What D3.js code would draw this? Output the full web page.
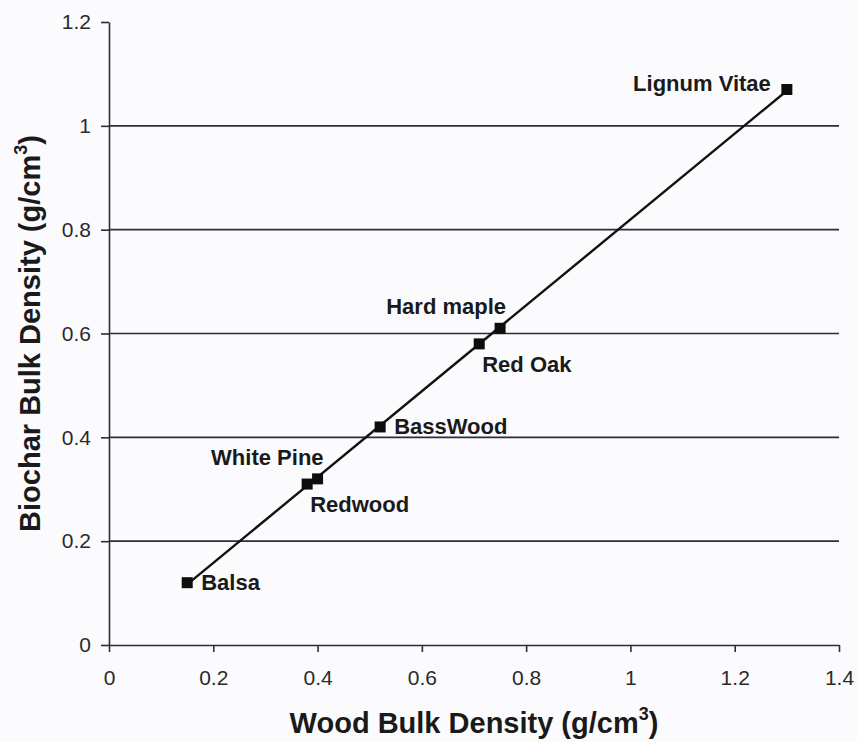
<!DOCTYPE html>
<html>
<head>
<meta charset="utf-8">
<script src="https://cdn.jsdelivr.net/npm/d3@7"></script>
<style>
    body { margin: 0; background: #fbfbfd; }
    svg { display: block; }
    .tick text { font-family: Arial, "Liberation Sans", sans-serif; font-size: 21px; fill: #2a2a2a; }
    .tick line, .domain { stroke: #2c2c3a; stroke-width: 1.6; }
    .point-label { font-family: Arial, "Liberation Sans", sans-serif; font-size: 22px; font-weight: bold; fill: #1a1a1a; }
    .axis-title { font-family: Arial, "Liberation Sans", sans-serif; font-size: 29px; font-weight: bold; fill: #1a1a1a; }
</style>
</head>
<body>
<div id="chart"></div>
<script>
// Wood species and their densities (g/cm3)
const woods = ['Balsa', 'Redwood', 'White Pine', 'BassWood', 'Red Oak', 'Hard maple', 'Lignum Vitae'];
const woodDensity = [0.15, 0.38, 0.40, 0.52, 0.71, 0.75, 1.30];
const biocharDensity = [0.12, 0.31, 0.32, 0.42, 0.58, 0.61, 1.07];

const xTicks = [0, 0.2, 0.4, 0.6, 0.8, 1, 1.2, 1.4];
const yTicks = [0, 0.2, 0.4, 0.6, 0.8, 1, 1.2];

// where each label sits relative to its marker
const labelPlacement = ['right', 'below', 'above', 'right', 'below', 'above', 'left'];

class DensityChart {
    constructor(selector) {
        this.selector = selector;

        this.margin = { top: 22, right: 18, bottom: 97, left: 109 };
        this.width = 857 - this.margin.left - this.margin.right;
        this.height = 742 - this.margin.top - this.margin.bottom;

        this.placements = {
            right: { dx: 14, dy: 7, anchor: 'start' },
            below: { dx: 3, dy: 28, anchor: 'start' },
            above: { dx: 6, dy: -14, anchor: 'end' },
            left: { dx: -16, dy: 2, anchor: 'end' }
        };

        this.data = woods.map((name, i) => ({
            name: name,
            wood: woodDensity[i],
            biochar: biocharDensity[i],
            place: labelPlacement[i]
        }));

        this.initVis();
    }

    initVis() {
        let vis = this;

        vis.svg = d3.select(vis.selector)
            .append('svg')
            .attr('width', 857)
            .attr('height', 742);

        vis.g = vis.svg.append('g')
            .attr('transform', `translate(${vis.margin.left}, ${vis.margin.top})`);

        vis.x = d3.scaleLinear().domain([0, 1.4]).range([0, vis.width]);
        vis.y = d3.scaleLinear().domain([0, 1.2]).range([vis.height, 0]);

        // Horizontal gridlines (none on the top tick)
        vis.g.selectAll('.grid')
            .data(yTicks.filter(d => d > 0 && d < 1.2))
            .enter()
            .append('line')
            .attr('class', 'grid')
            .attr('x1', 0)
            .attr('x2', vis.width)
            .attr('y1', d => vis.y(d))
            .attr('y2', d => vis.y(d))
            .attr('stroke', '#2c2c3a')
            .attr('stroke-width', 1.6);

        // Axes
        vis.g.append('g')
            .attr('transform', `translate(0, ${vis.height})`)
            .call(d3.axisBottom(vis.x)
                .tickValues(xTicks)
                .tickFormat(d3.format('~g'))
                .tickSizeInner(7)
                .tickSizeOuter(0)
                .tickPadding(18));

        vis.g.append('g')
            .call(d3.axisLeft(vis.y)
                .tickValues(yTicks)
                .tickFormat(d3.format('~g'))
                .tickSizeInner(8)
                .tickSizeOuter(0)
                .tickPadding(10));

        // Linear fit through the points
        const xs = vis.data.map(d => d.wood);
        const ys = vis.data.map(d => d.biochar);
        const mx = d3.mean(xs), my = d3.mean(ys);
        const slope = d3.sum(xs, (v, i) => (v - mx) * (ys[i] - my)) / d3.sum(xs, v => (v - mx) * (v - mx));
        const intercept = my - slope * mx;
        const ends = d3.extent(xs);

        vis.g.append('line')
            .attr('x1', vis.x(ends[0]))
            .attr('y1', vis.y(intercept + slope * ends[0]))
            .attr('x2', vis.x(ends[1]))
            .attr('y2', vis.y(intercept + slope * ends[1]))
            .attr('stroke', '#111')
            .attr('stroke-width', 2.4);

        // Markers
        const size = 11;
        vis.g.selectAll('.marker')
            .data(vis.data)
            .enter()
            .append('rect')
            .attr('class', 'marker')
            .attr('x', d => vis.x(d.wood) - size / 2)
            .attr('y', d => vis.y(d.biochar) - size / 2)
            .attr('width', size)
            .attr('height', size)
            .attr('fill', '#0d0d0d');

        // Point labels
        vis.g.selectAll('.point-label')
            .data(vis.data)
            .enter()
            .append('text')
            .attr('class', 'point-label')
            .attr('x', d => vis.x(d.wood) + vis.placements[d.place].dx)
            .attr('y', d => vis.y(d.biochar) + vis.placements[d.place].dy)
            .attr('text-anchor', d => vis.placements[d.place].anchor)
            .text(d => d.name);

        // Axis titles
        const xTitle = vis.g.append('text')
            .attr('class', 'axis-title')
            .attr('text-anchor', 'middle')
            .attr('x', vis.width / 2)
            .attr('y', vis.height + 88)
            .text('Wood Bulk Density (g/cm');
        vis.addCube(xTitle);

        const yTitle = vis.g.append('text')
            .attr('class', 'axis-title')
            .attr('text-anchor', 'middle')
            .attr('transform', `translate(${40 - vis.margin.left}, ${vis.height / 2}) rotate(-90)`)
            .text('Biochar Bulk Density (g/cm');
        vis.addCube(yTitle);
    }

    addCube(label) {
        label.append('tspan')
            .attr('font-size', '0.62em')
            .attr('dy', '-0.75em')
            .text('3');
        label.append('tspan')
            .attr('dy', '0.47em')
            .text(')');
    }
}

document.addEventListener('DOMContentLoaded', () => {
    new DensityChart('#chart');
});
</script>
</body>
</html>
